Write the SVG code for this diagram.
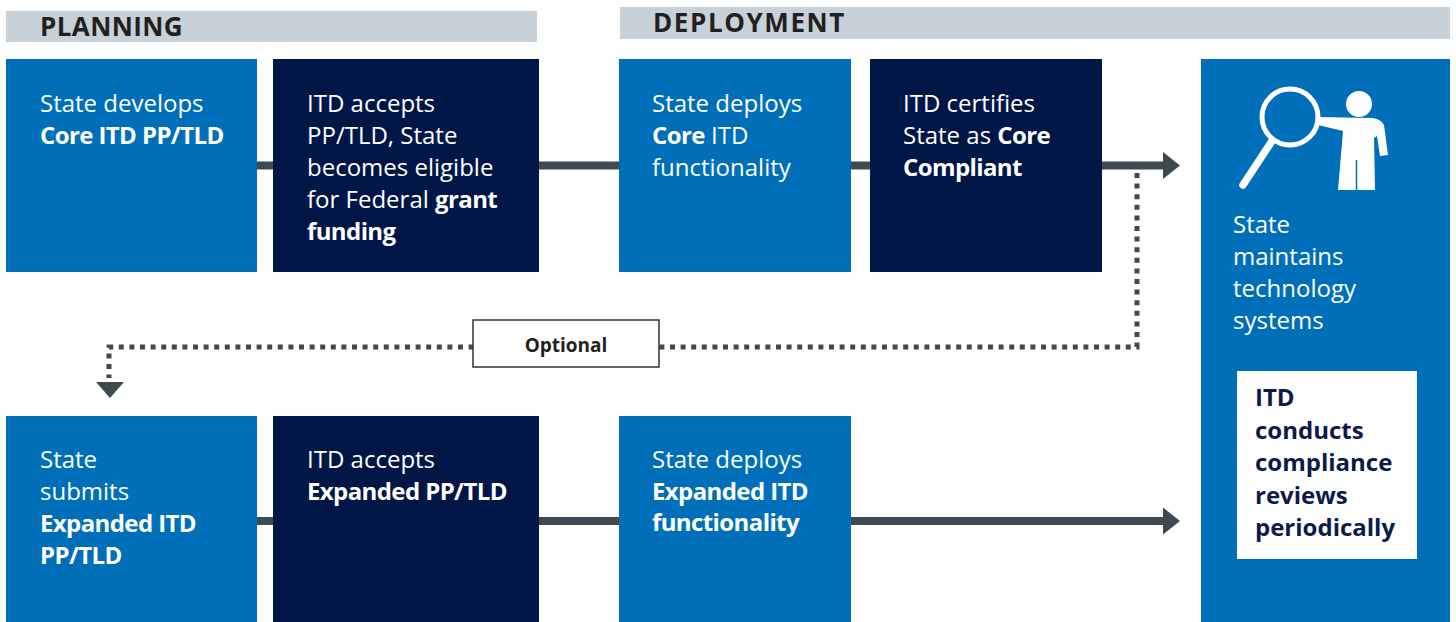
<svg xmlns="http://www.w3.org/2000/svg" width="1456" height="622" viewBox="0 0 1456 622">
<defs>
<style>
.hdr{fill:#C8D0D8}
.hdrt{font-family:"Open Sans","Liberation Sans",sans-serif;font-weight:700;font-size:26px;fill:#231F20}
.blue{fill:#006FBA}
.dark{fill:#001647}
.t{font-family:"Open Sans","Liberation Sans",sans-serif;font-size:24px;fill:#FFFFFF}
.b{font-weight:700;letter-spacing:-0.6px}
.wt{font-family:"Open Sans","Liberation Sans",sans-serif;font-size:24px;font-weight:700;fill:#0B1A4A}
.conn{stroke:#3E4A50;stroke-width:8;fill:none}
.dot{stroke:#3E4A50;stroke-width:5;fill:none;stroke-dasharray:5 5.6}
.ah{fill:#3E4A50}
.ico{fill:none;stroke:#FFFFFF}
</style>
</defs>
<rect width="1456" height="622" fill="#FFFFFF"/>

<g id="headers">
<rect class="hdr" x="6" y="11" width="531" height="31"/>
<text class="hdrt" x="40" y="36" style="letter-spacing:0.4px">PLANNING</text>
<rect class="hdr" x="620" y="7" width="830" height="32"/>
<text class="hdrt" x="653" y="32" style="letter-spacing:1.6px">DEPLOYMENT</text>
</g>

<g id="connectors">
<line class="conn" x1="257" y1="165.5" x2="1166" y2="165.5"/>
<polygon class="ah" points="1163,152 1180,165.5 1163,179"/>
<line class="conn" x1="257" y1="521" x2="1166" y2="521"/>
<polygon class="ah" points="1163,507.5 1180,521 1163,534.5"/>
<path class="dot" d="M1137,173 V347 H109 V378"/>
<polygon class="ah" points="96,382 124,382 110,398"/>
</g>

<g id="optional">
<rect x="473" y="320" width="186" height="47" fill="#FFFFFF" stroke="#333333" stroke-width="1.5"/>
<text x="566" y="352" text-anchor="middle" style="font-family:'Open Sans','Liberation Sans',sans-serif;font-size:19px;font-weight:700;fill:#231F20">Optional</text>
</g>

<g id="n1">
<rect class="blue" x="6" y="59" width="251" height="213"/>
<text class="t" x="40" y="112">State develops</text>
<text class="t b" x="40" y="144">Core ITD PP/TLD</text>
</g>

<g id="n2">
<rect class="dark" x="273" y="59" width="266" height="213"/>
<text class="t" x="307" y="112">ITD accepts</text>
<text class="t" x="307" y="144">PP/TLD, State</text>
<text class="t" x="307" y="176">becomes eligible</text>
<text class="t" x="307" y="208">for Federal <tspan class="b">grant</tspan></text>
<text class="t b" x="307" y="240">funding</text>
</g>

<g id="n3">
<rect class="blue" x="619" y="59" width="232" height="213"/>
<text class="t" x="652" y="112">State deploys</text>
<text class="t" x="652" y="144"><tspan class="b">Core</tspan> ITD</text>
<text class="t" x="652" y="176">functionality</text>
</g>

<g id="n4">
<rect class="dark" x="870" y="59" width="232" height="213"/>
<text class="t" x="903" y="112">ITD certifies</text>
<text class="t" x="903" y="144">State as <tspan class="b">Core</tspan></text>
<text class="t b" x="903" y="176">Compliant</text>
</g>

<g id="n5">
<rect class="blue" x="1201" y="59" width="249" height="563"/>
<g id="icon">
<circle class="ico" cx="1290" cy="117" r="28" stroke-width="5"/>
<line class="ico" x1="1272" y1="141" x2="1243" y2="185" stroke-width="7.5" stroke-linecap="round"/>
<circle cx="1359" cy="104" r="13" fill="#FFFFFF"/>
<path d="M1318,117 L1372,118 Q1381,119 1384,125 L1388,155 L1380,156 L1377,136 L1374,138 L1375,190 L1338,190 L1343,131 L1318,125 Z" fill="#FFFFFF"/>
<line x1="1356.5" y1="160" x2="1356.5" y2="191" stroke="#006FBA" stroke-width="1.5"/>
</g>
<text class="t" x="1233" y="233">State</text>
<text class="t" x="1233" y="265">maintains</text>
<text class="t" x="1233" y="297">technology</text>
<text class="t" x="1233" y="329">systems</text>
<rect x="1237" y="371" width="180" height="188" fill="#FFFFFF"/>
<text class="wt" x="1255" y="406">ITD</text>
<text class="wt" x="1255" y="438.5">conducts</text>
<text class="wt" x="1255" y="471">compliance</text>
<text class="wt" x="1255" y="503.5">reviews</text>
<text class="wt" x="1255" y="536">periodically</text>
</g>

<g id="n6">
<rect class="blue" x="6" y="416" width="251" height="206"/>
<text class="t" x="40" y="468">State</text>
<text class="t" x="40" y="500">submits</text>
<text class="t b" x="40" y="532">Expanded ITD</text>
<text class="t b" x="40" y="564">PP/TLD</text>
</g>

<g id="n7">
<rect class="dark" x="273" y="416" width="266" height="206"/>
<text class="t" x="307" y="468">ITD accepts</text>
<text class="t b" x="307" y="500">Expanded PP/TLD</text>
</g>

<g id="n8">
<rect class="blue" x="619" y="416" width="232" height="206"/>
<text class="t" x="652" y="468">State deploys</text>
<text class="t b" x="652" y="500">Expanded ITD</text>
<text class="t b" x="652" y="531">functionality</text>
</g>
</svg>
